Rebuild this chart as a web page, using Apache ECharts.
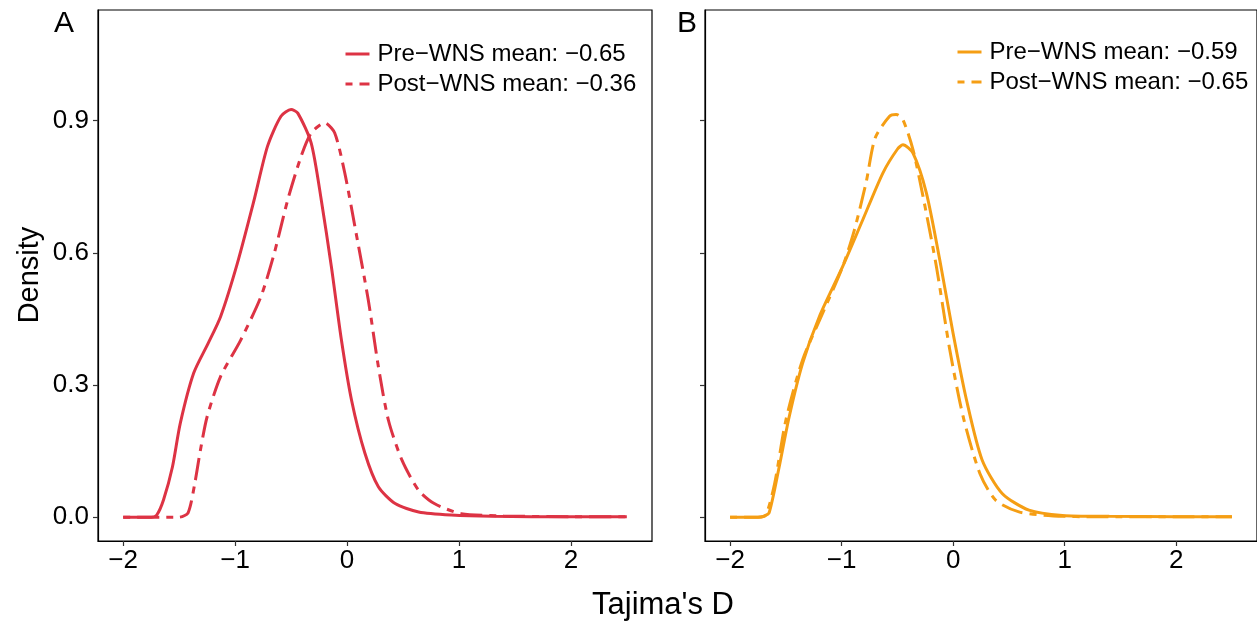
<!DOCTYPE html>
<html>
<head>
<meta charset="utf-8">
<script src="https://cdn.jsdelivr.net/npm/echarts@6/dist/echarts.min.js"></script>
<style>html,body{margin:0;padding:0;background:#fff;}#c{width:1257px;height:624px;}</style>
</head>
<body>
<div id="c"></div>
<script>
// ---- Data ----
const xTicks = [-2, -1, 0, 1, 2];
const yTicks = [0, 0.3, 0.6, 0.9];

const namesA = ['Pre\u2212WNS mean: \u22120.65', 'Post\u2212WNS mean: \u22120.36'];
const namesB = ['Pre\u2212WNS mean: \u22120.59', 'Post\u2212WNS mean: \u22120.65'];

const preA_x = [-2, -1.75, -1.70, -1.64, -1.56, -1.49, -1.37, -1.24, -1.13, -0.98, -0.83, -0.71, -0.59, -0.50, -0.44, -0.32, -0.23, -0.14, -0.05, 0.04, 0.16, 0.28, 0.43, 0.64, 0.93, 1.3, 2.0, 2.5];
const preA_y = [0, 0, 0.005, 0.039, 0.114, 0.213, 0.327, 0.395, 0.455, 0.576, 0.72, 0.842, 0.91, 0.925, 0.917, 0.849, 0.72, 0.569, 0.402, 0.266, 0.145, 0.069, 0.031, 0.012, 0.005, 0.002, 0.001, 0.001];

const postA_x = [-2, -1.5, -1.42, -1.36, -1.31, -1.25, -1.13, -0.95, -0.77, -0.65, -0.53, -0.41, -0.32, -0.20, -0.11, -0.02, 0.07, 0.19, 0.28, 0.37, 0.49, 0.64, 0.78, 1.02, 1.4, 2.0, 2.5];
const postA_y = [0, 0, 0.01, 0.077, 0.152, 0.228, 0.319, 0.402, 0.50, 0.599, 0.72, 0.819, 0.872, 0.895, 0.872, 0.781, 0.66, 0.493, 0.342, 0.22, 0.13, 0.061, 0.031, 0.008, 0.003, 0.001, 0.001];

const preB_x = [-2, -1.75, -1.70, -1.65, -1.56, -1.47, -1.35, -1.20, -0.99, -0.81, -0.63, -0.50, -0.45, -0.36, -0.24, -0.12, 0.0, 0.12, 0.26, 0.44, 0.68, 0.98, 1.4, 2.0, 2.5];
const preB_y = [0, 0, 0.002, 0.01, 0.114, 0.228, 0.349, 0.455, 0.569, 0.675, 0.781, 0.835, 0.845, 0.826, 0.736, 0.584, 0.417, 0.266, 0.13, 0.054, 0.016, 0.004, 0.002, 0.001, 0.001];

const postB_x = [-2, -1.75, -1.68, -1.60, -1.50, -1.35, -1.17, -0.99, -0.885, -0.78, -0.70, -0.57, -0.51, -0.45, -0.36, -0.27, -0.15, -0.03, 0.09, 0.24, 0.38, 0.59, 0.9, 1.3, 2.0, 2.5];
const postB_y = [0, 0, 0.005, 0.077, 0.22, 0.357, 0.463, 0.569, 0.652, 0.76, 0.86, 0.91, 0.914, 0.902, 0.834, 0.728, 0.569, 0.38, 0.228, 0.099, 0.039, 0.012, 0.003, 0.001, 0.001, 0.001];

// ---- Styling ----
const RED = '#DD3344';
const ORANGE = '#F59E14';
const FONT = '"Liberation Sans", Arial, sans-serif';
const DASH = [7, 7, 22, 7];

const zip = (xs, ys) => xs.map((x, i) => [x, ys[i]]);
const fmtX = v => (v < 0 ? '\u2212' + Math.abs(v) : String(v));

function xAxis(gi) {
  return {
    type: 'value', gridIndex: gi, min: -2.225, max: 2.725,
    axisLine: { show: true, onZero: false, lineStyle: { color: '#000', width: 1.2 } },
    axisTick: { show: true, length: 5, customValues: xTicks, lineStyle: { color: '#333', width: 1.2 } },
    axisLabel: { customValues: xTicks, formatter: fmtX, color: '#000', fontSize: 26, fontFamily: FONT, margin: 7 },
    splitLine: { show: false }
  };
}
function yAxis(gi, labels) {
  return {
    type: 'value', gridIndex: gi, min: -0.054, max: 1.151,
    axisLine: { show: true, onZero: false, lineStyle: { color: '#000', width: 1.2 } },
    axisTick: { show: true, length: 5, customValues: yTicks, lineStyle: { color: '#333', width: 1.2 } },
    axisLabel: { show: labels, customValues: yTicks, formatter: v => v.toFixed(1), color: '#000', fontSize: 26, fontFamily: FONT, margin: 9 },
    splitLine: { show: false }
  };
}
function line(name, data, color, dashed, gi) {
  return {
    type: 'line', name, data, xAxisIndex: gi, yAxisIndex: gi,
    symbol: 'none', smooth: 0.25, animation: false,
    lineStyle: { color, width: 3, type: dashed ? DASH : 'solid' },
    itemStyle: { color }
  };
}
function legend(names, left, top) {
  return {
    data: names, orient: 'vertical', left, top, padding: 0,
    itemWidth: 24, itemHeight: 14, itemGap: 6,
    itemStyle: { opacity: 0 },
    lineStyle: { width: 3 },
    textStyle: { fontSize: 24, fontFamily: FONT, color: '#000', padding: [0, 0, 0, 3] }
  };
}

const chart = echarts.init(document.getElementById('c'));
chart.setOption({
  backgroundColor: '#fff',
  animation: false,
  grid: [
    { left: 98, top: 10, width: 554, height: 531, show: true, borderColor: '#000', borderWidth: 1.2, containLabel: false },
    { left: 705, top: 10, width: 554, height: 531, show: true, borderColor: '#000', borderWidth: 1.2, containLabel: false }
  ],
  xAxis: [xAxis(0), xAxis(1)],
  yAxis: [yAxis(0, true), yAxis(1, false)],
  legend: [legend(namesA, 344, 42), legend(namesB, 956, 40)],
  series: [
    line(namesA[0], zip(preA_x, preA_y), RED, false, 0),
    line(namesA[1], zip(postA_x, postA_y), RED, true, 0),
    line(namesB[0], zip(preB_x, preB_y), ORANGE, false, 1),
    line(namesB[1], zip(postB_x, postB_y), ORANGE, true, 1)
  ],
  graphic: [
    { type: 'text', left: 54, top: 9, style: { text: 'A', fontSize: 30, fontFamily: FONT, fill: '#000' } },
    { type: 'text', left: 677, top: 9, style: { text: 'B', fontSize: 30, fontFamily: FONT, fill: '#000' } },
    { type: 'text', x: 663, y: 605, style: { text: "Tajima's D", fontSize: 31, fontFamily: FONT, fill: '#000', align: 'center', verticalAlign: 'middle' } },
    { type: 'text', x: 30, y: 275, rotation: Math.PI / 2, style: { text: 'Density', fontSize: 29, fontFamily: FONT, fill: '#000', align: 'center', verticalAlign: 'middle' } }
  ]
});
</script>
</body>
</html>
